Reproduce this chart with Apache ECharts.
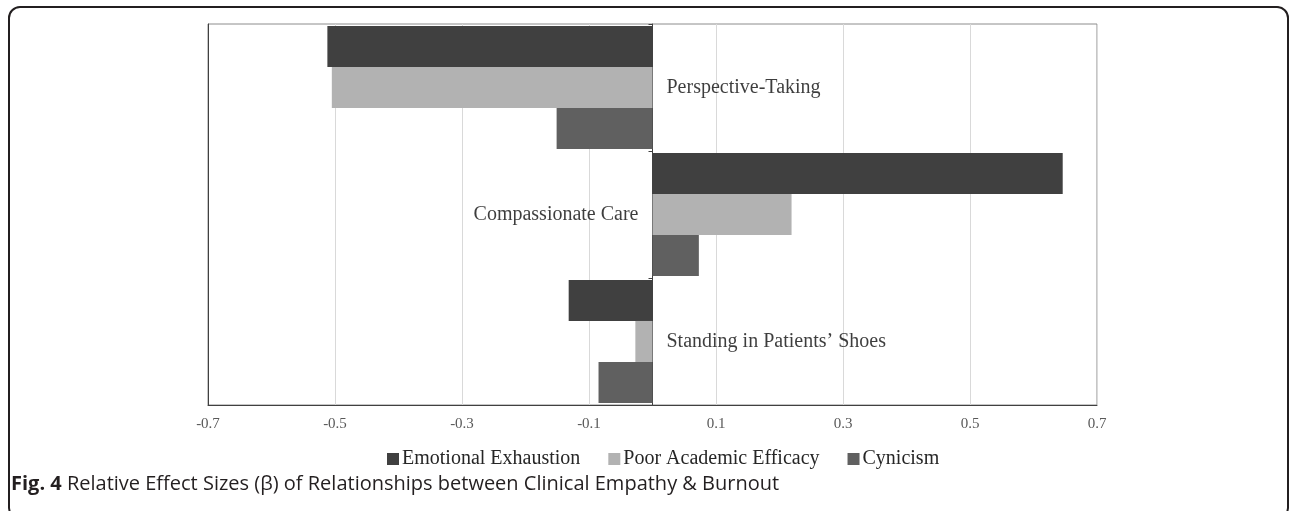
<!DOCTYPE html>
<html>
<head>
<meta charset="utf-8" />
<script src="https://cdn.jsdelivr.net/npm/echarts@6/dist/echarts.min.js"></script>
<style>
  html, body { margin: 0; padding: 0; background: #fff; }
  #chart { position: absolute; left: 0; top: 0; width: 1295px; height: 511px; }
  #frame {
    position: absolute; left: 8px; top: 6px; width: 1277px; height: 510px;
    border: 2px solid #231f20; border-radius: 12px; pointer-events: none;
  }
</style>
</head>
<body>
<div id="chart"></div>
<div id="frame"></div>
<script>
const categories = ["Perspective-Taking", "Compassionate Care", "Standing in Patients\u2019 Shoes"];
const emotionalExhaustion = [-0.512, 0.646, -0.132];
const poorAcademicEfficacy = [-0.505, 0.219, -0.027];
const cynicism = [-0.151, 0.073, -0.085];
const xTickLabels = ["-0.7", "-0.5", "-0.3", "-0.1", "0.1", "0.3", "0.5", "0.7"];

const serif = "'Liberation Serif', 'Times New Roman', serif";

const chart = echarts.init(document.getElementById("chart"));

// category names sit beside the zero line, on the side away from the bars
const labelPoints = categories.map((name, i) => ({
  value: [0, i],
  name: name,
  label: { position: emotionalExhaustion[i] < 0 ? "right" : "left" },
}));

function barSeries(name, data, color) {
  return {
    name: name,
    type: "bar",
    data: data,
    barGap: 0,
    barCategoryGap: "3%",
    itemStyle: { color: color },
  };
}

chart.setOption({
  animation: false,
  title: {
    left: 6,
    top: 469,
    text: "{b|Fig. 4} Relative Effect Sizes (\u03b2) of Relationships between Clinical Empathy & Burnout",
    textStyle: {
      fontFamily: "'Open Sans', sans-serif",
      fontSize: 20,
      fontWeight: "normal",
      color: "#231f20",
      rich: {
        b: { fontFamily: "'Open Sans', sans-serif", fontSize: 20, fontWeight: "bold", color: "#231f20" },
      },
    },
  },
  legend: {
    top: 444,
    left: 382,
    icon: "rect",
    itemWidth: 12,
    itemHeight: 12,
    itemGap: 28,
    data: ["Emotional Exhaustion", "Poor Academic Efficacy", "Cynicism"],
    textStyle: { fontFamily: serif, fontSize: 20, color: "#262626", padding: [0, 0, 0, -2] },
  },
  grid: {
    left: 208,
    right: 198,
    top: 24,
    bottom: 106,
    show: true,
    borderColor: "#8c8c8c",
    borderWidth: 1,
  },
  xAxis: {
    type: "value",
    min: -0.7,
    max: 0.7,
    interval: 0.1,
    axisLine: { show: true, lineStyle: { color: "#404040" } },
    axisTick: { show: false },
    axisLabel: {
      margin: 12,
      color: "#595959",
      fontFamily: serif,
      fontSize: 15,
      formatter: (v) => {
        const s = v.toFixed(1);
        return xTickLabels.indexOf(s) >= 0 ? s : "";
      },
    },
    splitLine: { show: true, lineStyle: { color: ["#d9d9d9", "transparent"] } },
  },
  yAxis: [
    {
      type: "category",
      data: categories,
      inverse: true,
      axisLine: { show: true, onZero: true, lineStyle: { color: "#404040" } },
      axisTick: { show: true, length: 4, lineStyle: { color: "#404040" } },
      axisLabel: { show: false },
      splitLine: { show: false },
    },
    {
      type: "category",
      data: categories,
      inverse: true,
      position: "left",
      axisLine: { show: true, onZero: false, lineStyle: { color: "#404040" } },
      axisTick: { show: false },
      axisLabel: { show: false },
      splitLine: { show: false },
    },
  ],
  series: [
    barSeries("Emotional Exhaustion", emotionalExhaustion, "#404040"),
    barSeries("Poor Academic Efficacy", poorAcademicEfficacy, "#b2b2b2"),
    barSeries("Cynicism", cynicism, "#606060"),
    {
      type: "scatter",
      symbolSize: 0,
      silent: true,
      z: 5,
      data: labelPoints,
      label: {
        show: true,
        distance: 14,
        formatter: "{b}",
        fontFamily: serif,
        fontSize: 20,
        color: "#0d0d0d",
      },
    },
  ],
});
</script>
</body>
</html>
